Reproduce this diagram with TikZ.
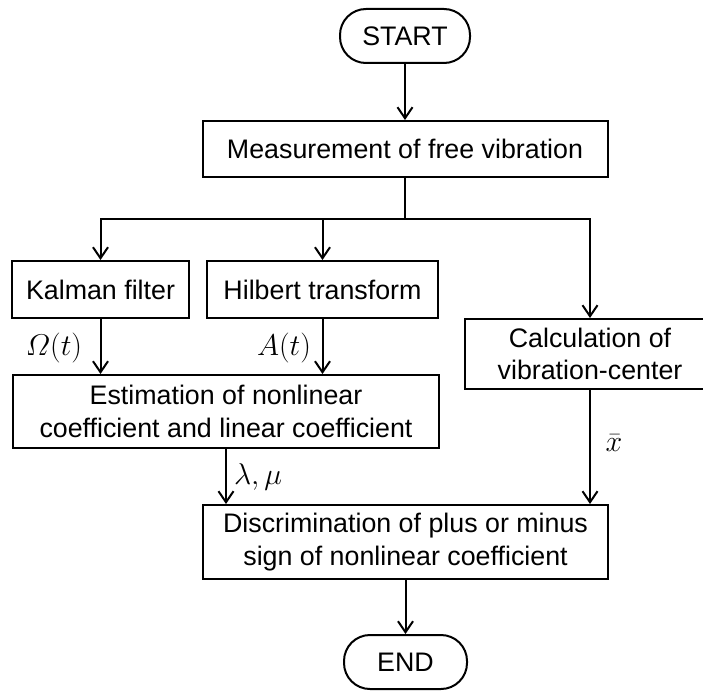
\RequirePackage{fix-cm}
\documentclass[tikz,border=0pt]{standalone}
\usepackage{amsmath}
\usepackage{fontspec}
\setmainfont{Liberation Sans}
\usetikzlibrary{arrows.meta}
\tikzset{
  box/.style={draw, line width=2pt, inner sep=0pt, align=center, font=\fontsize{26.8}{32.5}\selectfont},
  term/.style={box, rounded corners=26pt},
  arr/.style={line width=2pt, -{Straight Barb[length=11pt,width=15pt,line width=2pt]}},
  lin/.style={line width=2pt},
  lab/.style={inner sep=0pt, font=\fontsize{30}{33}\selectfont}
}
\begin{document}
\begin{tikzpicture}[x=1pt,y=-1pt]
\useasboundingbox[fill=white] (0,0) rectangle (703,690);
\node[term, minimum width=130pt, minimum height=54pt] (start) at (405,36) {START};
\node[box, minimum width=405pt, minimum height=56pt] (meas) at (405,149) {Measurement of free vibration};
\coordinate (jn) at (405,219);
\node[box, minimum width=177pt, minimum height=57pt] (kal) at (100.5,289.5) {Kalman filter};
\node[box, minimum width=231pt, minimum height=57pt] (hil) at (322.5,289.5) {Hilbert transform};
\node[box, minimum width=250pt, minimum height=70pt] (calc) at (590,354) {Calculation of\\vibration-center};
\node[box, minimum width=426pt, minimum height=73pt] (est) at (226,411.5) {Estimation of nonlinear\\coefficient and linear coefficient};
\node[box, minimum width=405pt, minimum height=74pt] (dis) at (405.5,542) {Discrimination of plus or minus\\sign of nonlinear coefficient};
\node[term, minimum width=123pt, minimum height=54pt] (end) at (405.5,662) {END};

\draw[arr] (start.south) -- (start.south |- meas.north);
\draw[lin] (meas.south -| jn) -- (jn);
\draw[arr] (jn) -| (kal.north);
\draw[arr] (jn) -| (calc.north);
\draw[arr] (jn -| hil.north) -- (hil.north);
\draw[arr] (kal.south) -- (kal.south |- est.north);
\draw[arr] (hil.south) -- (hil.south |- est.north);
\draw[arr] (est.south) -- (est.south |- dis.north);
\draw[arr] (calc.south) -- (calc.south |- dis.north);
\draw[arr] (dis.south -| end.north) -- (end.north);

\node[lab] (lo) at (54,348) {$\varOmega(t)$};
\node[lab] (la) at (284,348) {$A(t)$};
\node[lab] (ll) at (258,477) {$\lambda,\mu$};
\node[lab] (lx) at (614,443) {$\bar{x}$};
\end{tikzpicture}
\end{document}
